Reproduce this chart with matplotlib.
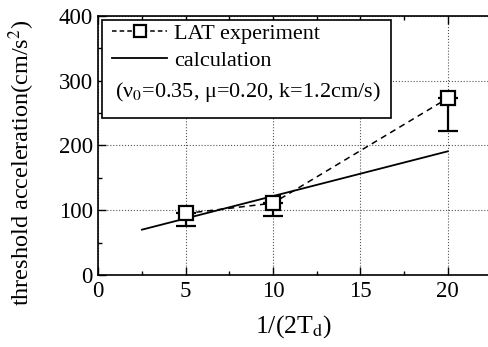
import matplotlib
matplotlib.use('Agg')
import matplotlib.pyplot as plt
from matplotlib.patches import Rectangle
from matplotlib.ticker import MultipleLocator

plt.rcParams['font.family'] = ['Liberation Serif', 'DejaVu Serif']
plt.rcParams['mathtext.fontset'] = 'stix'

# LAT experiment
exp_x = [5, 10, 20]
exp_y = [95, 111, 273]
exp_err_low = [20, 20, 50]
# calculation
calc_x = [2.5, 20]
calc_y = [70, 191]

fig = plt.figure(figsize=(4.88, 3.47), dpi=100)
ax = fig.add_axes([0.2014, 0.2075, 0.7986, 0.7465])

ax.plot(calc_x, calc_y, color='black', lw=1.3)
ax.plot(exp_x, exp_y, color='black', lw=1.1, ls=(0, (4, 3)))
ax.errorbar(exp_x, exp_y, yerr=[exp_err_low, [0, 0, 0]], fmt='none',
            ecolor='black', elinewidth=1.6, capsize=7, capthick=1.6)
ax.plot(exp_x, exp_y, ls='none', marker='s', ms=10, mfc='white',
        mec='black', mew=1.6)

ax.set_xlim(0, 22.3)
ax.set_ylim(0, 400)
ax.xaxis.set_major_locator(MultipleLocator(5))
ax.xaxis.set_minor_locator(MultipleLocator(2.5))
ax.yaxis.set_major_locator(MultipleLocator(100))
ax.yaxis.set_minor_locator(MultipleLocator(50))
ax.tick_params(which='both', direction='in', top=True, right=False,
               labelsize=16.5, width=1.0)
ax.tick_params(which='major', length=6)
ax.tick_params(axis='x', pad=4)
ax.tick_params(axis='y', pad=4)
ax.tick_params(which='minor', length=3)
ax.spines['right'].set_visible(False)
for s in ['left', 'bottom', 'top']:
    ax.spines[s].set_linewidth(1.2)
ax.grid(True, which='major', ls=':', lw=0.8, color='#555555')

ax.set_xlabel(r'1/(2T$_\mathrm{d}$)', fontsize=18.5, labelpad=8)
ax.set_ylabel(r'threshold acceleration(cm/s$^2$)', fontsize=17.5)
ax.yaxis.set_label_coords(-0.157, 0.432)

# legend box
ax.add_patch(Rectangle((0.009, 0.607), 0.742, 0.378, transform=ax.transAxes,
                       facecolor='white', edgecolor='black', lw=1.2, zorder=5))
h_exp, = ax.plot([], [], color='black', lw=1.1, ls=(0, (3, 2)), marker='s',
                 ms=9, mfc='white', mec='black', mew=1.6)
h_calc, = ax.plot([], [], color='black', lw=1.3)
leg = ax.legend([h_exp, h_calc], ['LAT experiment', 'calculation'],
                loc='upper left', bbox_to_anchor=(0.035, 0.972), frameon=False,
                fontsize=16, handlelength=2.5, handletextpad=0.3,
                labelspacing=0.3, borderaxespad=0, borderpad=0)
leg.set_zorder(6)
ax.text(0.043, 0.705, '(ν$_0$=0.35, μ=0.20, k=1.2cm/s)', transform=ax.transAxes,
        fontsize=16, va='center', ha='left', zorder=7)

fig.savefig('out.png', dpi=100)
